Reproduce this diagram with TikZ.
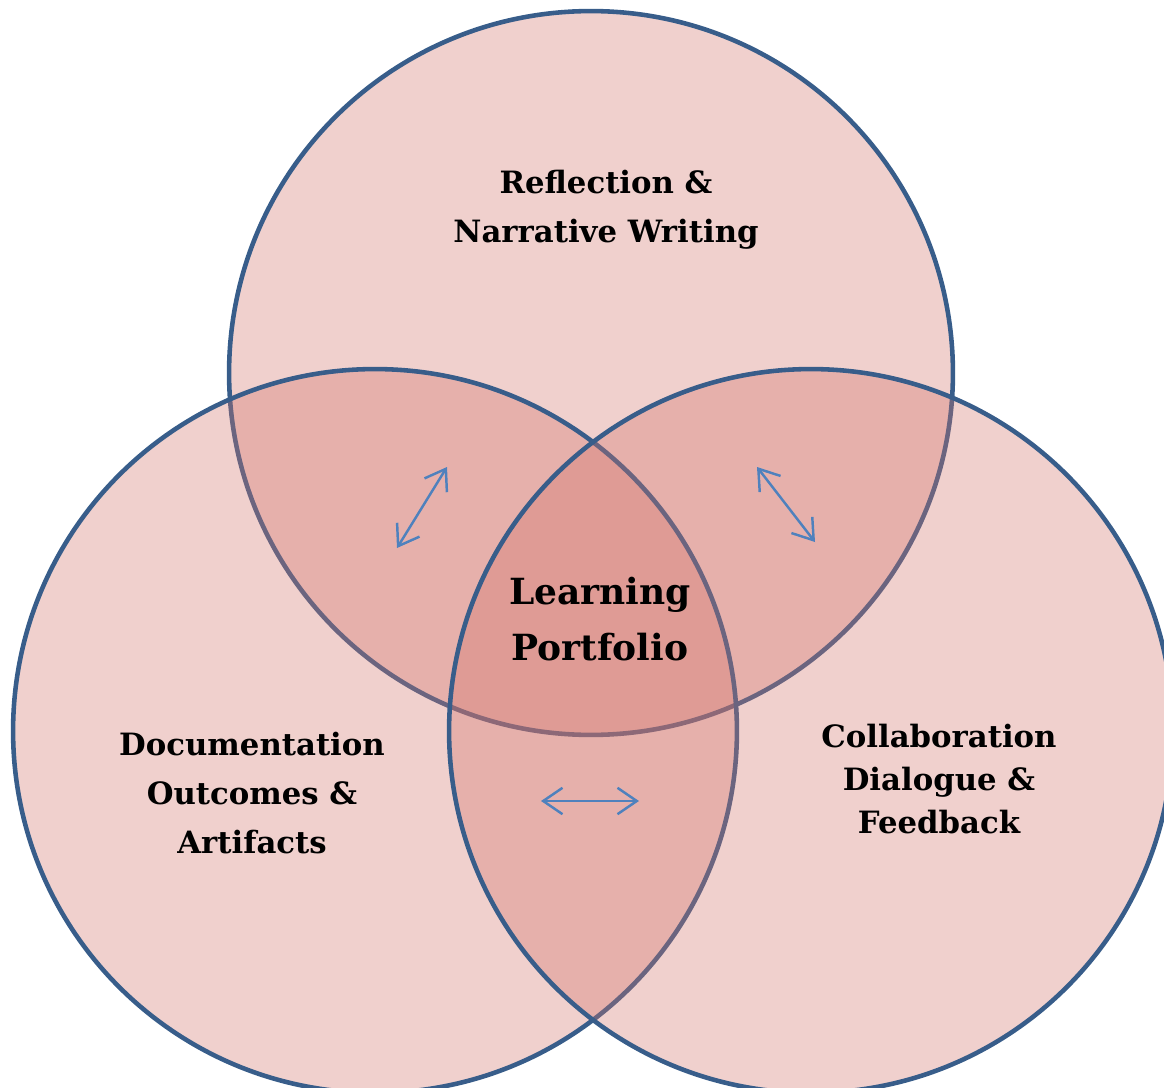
\documentclass[tikz,border=0pt]{standalone}
\usepackage{fontspec}
\setmainfont{DejaVu Serif}
\usepackage{xcolor}
\usetikzlibrary{arrows.meta}
\definecolor{vennred}{RGB}{210,114,105}
\definecolor{vennedge}{RGB}{56,93,138}
\definecolor{linkblue}{RGB}{79,129,189}
\tikzstyle{venn} = [circle, draw=vennedge, line width=2.6pt, fill=vennred,
    fill opacity=0.333, draw opacity=1, minimum size=14.48cm, inner sep=0pt]
\tikzstyle{areatext} = [text=black, align=center, text opacity=1,
    font=\bfseries\fontsize{17.5}{28}\selectfont]
\tikzstyle{coretext} = [areatext, font=\bfseries\fontsize{20.5}{31.7}\selectfont]
\tikzstyle{twoway} = [linkblue, line width=1.4pt,
    {Straight Barb[length=11pt,width=15pt]}-{Straight Barb[length=11pt,width=15pt]}]

\begin{document}
\begin{tikzpicture}[x=0.02cm, y=-0.02cm]
\useasboundingbox (0,0) rectangle (1164,1088);
% circles, each one laid over the outlines of the earlier ones
\node [venn] (reflect) at (591,373) {};
\node [venn] (document) at (375,731) {};
\node [venn] (collab) at (811,731) {};

\node [areatext] (reflecttext) at (606,210) {Reflection \&\\Narrative Writing};
\node [areatext] (doctext) at (252,793) {Documentation\\Outcomes \&\\Artifacts};
\node [areatext, font=\bfseries\fontsize{17.5}{24.4}\selectfont] (collabtext) at (939,779)
    {Collaboration\\Dialogue \&\\Feedback};
\node [coretext] (core) at (600,619) {Learning\\Portfolio};

% arrows in the paired overlaps
\coordinate (leftlow) at (397,548);
\coordinate (lefthigh) at (447,467);
\coordinate (righthigh) at (757,467);
\coordinate (rightlow) at (815,542);
\coordinate (bottomleft) at (541,801);
\coordinate (bottomright) at (639,801);
\draw [twoway] (leftlow) -- (lefthigh);
\draw [twoway] (righthigh) -- (rightlow);
\draw [twoway] (bottomleft) -- (bottomright);
\end{tikzpicture}
\end{document}
